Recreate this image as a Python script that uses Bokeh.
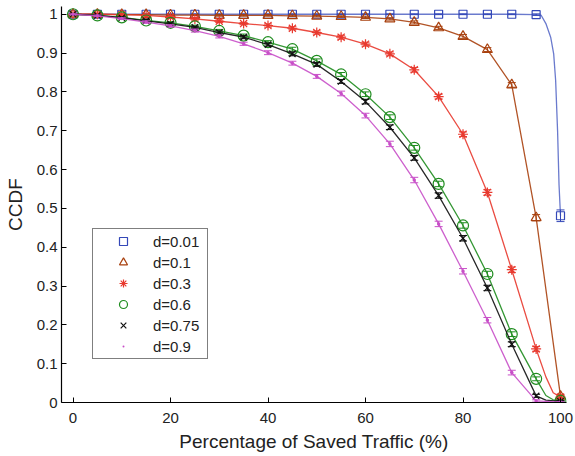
from bokeh.plotting import figure
from bokeh.models import Range1d, FixedTicker, Legend, LegendItem
from bokeh.embed import file_html
from bokeh.resources import INLINE

# ---- data ----
x_pts = [0, 5, 10, 15, 20, 25, 30, 35, 40, 45, 50, 55, 60, 65, 70, 75, 80, 85, 90, 95, 100]

y_d001 = [1.0, 1.0, 1.0, 1.0, 1.0, 1.0, 1.0, 1.0, 1.0, 1.0, 1.0, 1.0, 1.0, 1.0, 1.0, 1.0, 1.0, 1.0, 1.0, 0.999, 0.481]
y_d01 = [1.0, 1.0, 0.999, 0.999, 0.998, 0.998, 0.997, 0.997, 0.997, 0.996, 0.995, 0.994, 0.992, 0.988, 0.979, 0.965, 0.943, 0.909, 0.818, 0.476, 0.016]
y_d03 = [1.0, 1.0, 0.999, 0.997, 0.993, 0.988, 0.982, 0.976, 0.971, 0.964, 0.953, 0.941, 0.923, 0.898, 0.857, 0.788, 0.691, 0.541, 0.342, 0.138, 0.014]
y_d06 = [1.0, 0.997, 0.992, 0.984, 0.978, 0.969, 0.957, 0.945, 0.928, 0.910, 0.880, 0.845, 0.794, 0.735, 0.656, 0.563, 0.456, 0.331, 0.176, 0.061, 0.004]
y_d075 = [1.0, 0.997, 0.991, 0.983, 0.975, 0.966, 0.953, 0.941, 0.922, 0.898, 0.871, 0.827, 0.775, 0.709, 0.630, 0.533, 0.423, 0.295, 0.150, 0.017, 0.003]
y_d09 = [1.0, 0.996, 0.989, 0.980, 0.970, 0.958, 0.943, 0.924, 0.901, 0.874, 0.840, 0.796, 0.739, 0.666, 0.573, 0.460, 0.338, 0.212, 0.077, 0.004, 0.001]

e_d001 = [0.001, 0.001, 0.001, 0.001, 0.001, 0.001, 0.001, 0.001, 0.001, 0.001, 0.001, 0.001, 0.001, 0.001, 0.001, 0.001, 0.001, 0.001, 0.001, 0.002, 0.015]
e_d01 = [0.001, 0.001, 0.001, 0.001, 0.001, 0.001, 0.002, 0.002, 0.002, 0.002, 0.002, 0.002, 0.003, 0.003, 0.004, 0.004, 0.005, 0.005, 0.006, 0.008, 0.004]
e_d03 = [0.001, 0.001, 0.002, 0.002, 0.002, 0.003, 0.003, 0.003, 0.004, 0.004, 0.004, 0.005, 0.005, 0.005, 0.006, 0.006, 0.006, 0.007, 0.007, 0.006, 0.004]
e_d06 = [0.001, 0.002, 0.002, 0.003, 0.003, 0.003, 0.004, 0.004, 0.004, 0.005, 0.005, 0.005, 0.006, 0.006, 0.006, 0.007, 0.007, 0.007, 0.006, 0.005, 0.002]
e_d075 = [0.001, 0.002, 0.002, 0.003, 0.003, 0.003, 0.004, 0.004, 0.004, 0.005, 0.005, 0.005, 0.006, 0.006, 0.006, 0.007, 0.007, 0.007, 0.006, 0.004, 0.002]
e_d09 = [0.001, 0.002, 0.002, 0.003, 0.003, 0.004, 0.004, 0.004, 0.005, 0.005, 0.005, 0.006, 0.006, 0.007, 0.007, 0.007, 0.007, 0.007, 0.006, 0.003, 0.001]

# extra points of the drawn curves near the right end
tail_x_d001 = [96, 97, 98, 98.6, 99, 99.4, 99.7]
tail_y_d001 = [0.998, 0.976, 0.94, 0.898, 0.83, 0.70, 0.56]
tail_x_d03 = [97, 98.5]
tail_y_d03 = [0.066, 0.025]
tail_x_d06 = [97, 98.5]
tail_y_d06 = [0.018, 0.007]
tail_x_d075 = [97]
tail_y_d075 = [0.006]

labels = ["d=0.01", "d=0.1", "d=0.3", "d=0.6", "d=0.75", "d=0.9"]

x_tick_vals = [0, 20, 40, 60, 80, 100]
y_tick_vals = [0, 0.1, 0.2, 0.3, 0.4, 0.5, 0.6, 0.7, 0.8, 0.9, 1]

FONT = "Liberation Sans"

p = figure(width=575, height=456, output_backend="svg", toolbar_location=None,
           x_range=Range1d(-2.36, 101.23), y_range=Range1d(0, 1.02),
           min_border_left=61, min_border_right=9, min_border_top=6, min_border_bottom=54)
p.outline_line_color = None
p.xgrid.visible = False
p.ygrid.visible = False
p.background_fill_color = "white"
p.border_fill_color = "white"


def merge(xs, ys, tx, ty):
    pts = sorted(list(zip(xs, ys)) + list(zip(tx, ty)))
    return [a for a, _ in pts], [b for _, b in pts]


series = [
    (y_d001, e_d001, tail_x_d001, tail_y_d001, "#3448b8", "#5a6cc8", "square", 8),
    (y_d01, e_d01, [], [], "#a8400e", "#a8400e", "triangle", 10),
    (y_d03, e_d03, tail_x_d03, tail_y_d03, "#e8392e", "#e8392e", "asterisk", 10),
    (y_d06, e_d06, tail_x_d06, tail_y_d06, "#1e8c1e", "#1e8c1e", "circle", 11),
    (y_d075, e_d075, tail_x_d075, tail_y_d075, "#111111", "#111111", "x", 9),
    (y_d09, e_d09, [], [], "#c84fc8", "#c84fc8", "dot", 14),
]

items = []
for (ys, es, tx, ty, mcol, lcol, marker, size), lab in zip(series, labels):
    lx, ly = merge(x_pts, ys, tx, ty)
    p.line(lx, ly, line_color=lcol, line_width=1.3, line_alpha=0.9)
    lo = [y - e for y, e in zip(ys, es)]
    hi = [y + e for y, e in zip(ys, es)]
    p.segment(x0=x_pts, y0=lo, x1=x_pts, y1=hi, line_color=mcol, line_width=1)
    p.scatter(x_pts, lo, marker="dash", size=8, line_color=mcol, line_width=1)
    p.scatter(x_pts, hi, marker="dash", size=8, line_color=mcol, line_width=1)
    r = p.scatter(x_pts, ys, marker=marker, size=size, line_color=mcol, line_width=1.2,
                  fill_color=mcol if marker == "dot" else None)
    items.append(LegendItem(label=lab, renderers=[r]))

legend = Legend(items=items, location=(31, 43), margin=0, padding=2, spacing=1,
                glyph_width=56, glyph_height=20, label_height=20, label_width=52,
                label_standoff=2, label_text_font=FONT, label_text_font_size="15px",
                label_text_color="#222222",
                border_line_color="black", border_line_width=1.5,
                background_fill_color="white", background_fill_alpha=1.0)
p.add_layout(legend, "center")

for ax in (p.xaxis[0], p.yaxis[0]):
    ax.axis_line_color = "black"
    ax.axis_line_width = 1.2
    ax.major_tick_in = 5
    ax.major_tick_out = 0
    ax.minor_tick_line_color = None
    ax.major_tick_line_color = "black"
    ax.major_label_text_font = FONT
    ax.major_label_text_font_size = "15px"
    ax.major_label_text_color = "#222222"
    ax.axis_label_text_font = FONT
    ax.axis_label_text_font_style = "normal"
    ax.axis_label_text_color = "#222222"

p.xaxis.axis_label_text_font_size = "19px"
p.yaxis.axis_label_text_font_size = "19px"
p.xaxis.ticker = FixedTicker(ticks=x_tick_vals)
p.yaxis.ticker = FixedTicker(ticks=y_tick_vals)
p.yaxis.major_label_overrides = {0: "0", 1: "1"}
p.xaxis.axis_label = "Percentage of Saved Traffic (%)"
p.yaxis.axis_label = "CCDF"
p.xaxis.major_label_standoff = 10
p.yaxis.major_label_standoff = 4
p.xaxis.axis_label_standoff = 5
p.yaxis.axis_label_standoff = 8

open("out.html", "w").write(file_html(p, INLINE))
